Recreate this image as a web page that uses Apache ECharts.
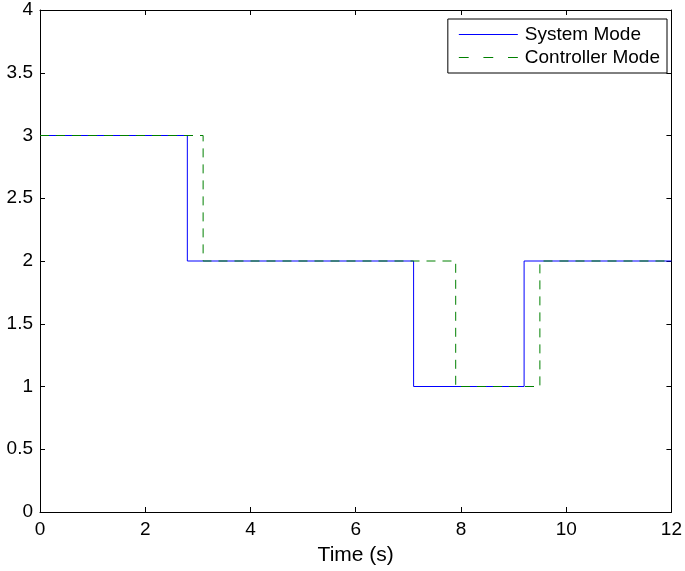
<!DOCTYPE html>
<html>
<head>
<meta charset="utf-8">
<script src="https://cdn.jsdelivr.net/npm/echarts@6/dist/echarts.min.js"></script>
<style>
  html, body { margin: 0; padding: 0; background: #fff; }
  #chart { width: 685px; height: 571px; }
</style>
</head>
<body>
<div id="chart"></div>
<script>
// switching times (s) and the mode held from each time on
var systemTimes = [0, 2.8, 7.1, 9.2, 12];
var systemModes = [3, 2, 1, 2, 2];
var controllerTimes = [0, 3.1, 7.9, 9.5, 12];
var controllerModes = [3, 2, 1, 2, 2];
var xTicks = [0, 2, 4, 6, 8, 10, 12];
var yTicks = [0, 0.5, 1, 1.5, 2, 2.5, 3, 3.5, 4];

function pairs(xs, ys) {
    var out = [];
    for (var i = 0; i < xs.length; i++) {
        out.push([xs[i], ys[i]]);
    }
    return out;
}

var font = 'Liberation Sans, Arial, Helvetica, sans-serif';
var chart = echarts.init(document.getElementById('chart'));

// box style axes: ticks inside on all four sides
var axisBase = {
    axisLine: { show: true, onZero: false, lineStyle: { color: '#000', width: 1 } },
    axisTick: { show: true, inside: true, length: 5, lineStyle: { color: '#000' } },
    splitLine: { show: false }
};

var option = {
    animation: false,
    backgroundColor: '#fff',
    grid: { left: 40, right: 9, top: 10, bottom: 59, containLabel: false },
    legend: {
        right: 18,
        top: 19,
        orient: 'vertical',
        backgroundColor: '#fff',
        borderColor: '#000',
        borderWidth: 1,
        borderRadius: 0,
        padding: [6, 7, 6, 11],
        itemGap: 4,
        itemWidth: 59,
        itemHeight: 12,
        textStyle: { fontFamily: font, fontSize: 19, color: '#000', padding: [0, 0, 0, 2] },
        data: [
            { name: 'System Mode', icon: 'path://M0,0L60,0L60,1L0,1Z', itemStyle: { color: '#0000ff' } },
            { name: 'Controller Mode', icon: 'path://M0,0L10,0L10,1L0,1ZM25,0L35,0L35,1L25,1ZM50,0L60,0L60,1L50,1Z', itemStyle: { color: '#008000' } }
        ]
    },
    xAxis: [
        Object.assign({}, axisBase, {
            type: 'value', min: 0, max: 12, interval: 2,
            name: 'Time (s)', nameLocation: 'middle', nameGap: 33,
            nameTextStyle: { fontFamily: font, fontSize: 21, color: '#000' },
            axisLabel: { fontFamily: font, fontSize: 19, color: '#000', margin: 8,
                formatter: function (v) { return xTicks.indexOf(v) >= 0 ? String(v) : ''; } }
        }),
        Object.assign({}, axisBase, {
            type: 'value', position: 'top', min: 0, max: 12, interval: 2,
            axisLabel: { show: false }
        })
    ],
    yAxis: [
        Object.assign({}, axisBase, {
            type: 'value', min: 0, max: 4, interval: 0.5,
            axisLabel: { fontFamily: font, fontSize: 19, color: '#000', margin: 7,
                formatter: function (v) { return yTicks.indexOf(v) >= 0 ? String(v) : ''; } }
        }),
        Object.assign({}, axisBase, {
            type: 'value', position: 'right', min: 0, max: 4, interval: 0.5,
            axisLabel: { show: false }
        })
    ],
    series: [
        {
            name: 'System Mode',
            type: 'line',
            step: 'end',
            symbol: 'none',
            color: '#0000ff',
            lineStyle: { color: '#0000ff', width: 1 },
            data: pairs(systemTimes, systemModes),
            z: 2
        },
        {
            name: 'Controller Mode',
            type: 'line',
            step: 'end',
            symbol: 'none',
            color: '#008000',
            lineStyle: { color: '#008000', width: 1, type: [9, 7] },
            data: pairs(controllerTimes, controllerModes),
            z: 3
        }
    ]
};

chart.setOption(option);
</script>
</body>
</html>
